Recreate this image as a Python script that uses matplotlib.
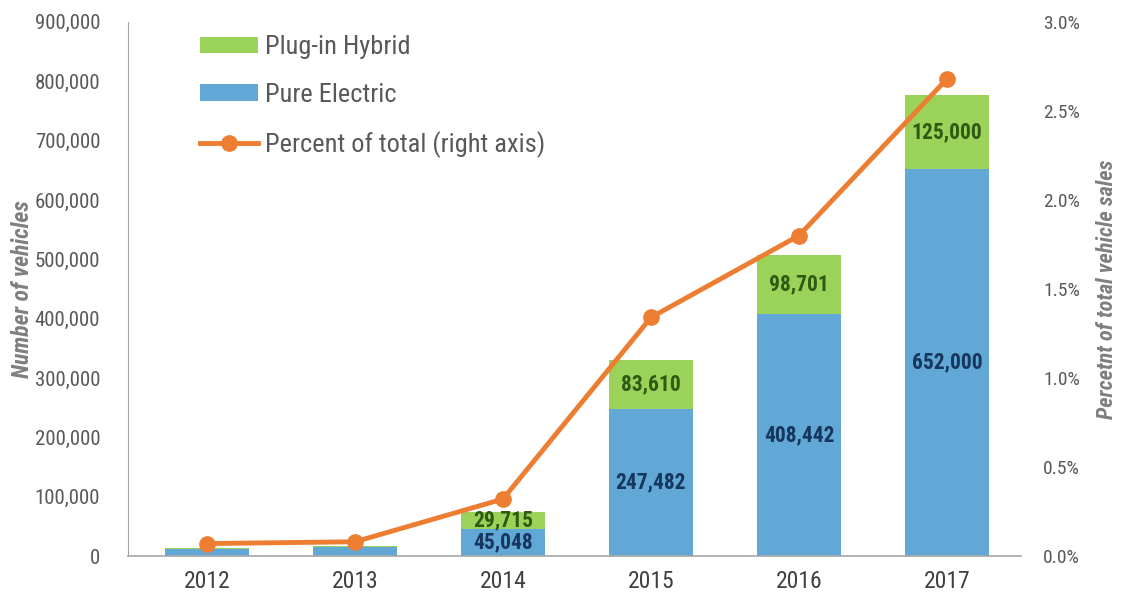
import matplotlib
matplotlib.use("Agg")
from matplotlib import pyplot as plt
from matplotlib import font_manager
from matplotlib.lines import Line2D
from matplotlib.patches import Patch
from matplotlib.ticker import FuncFormatter

# pick a narrow family if one is installed, else Roboto
installed = {f.name for f in font_manager.fontManager.ttflist}
family = "Roboto"
for cand in ["Roboto Condensed", "Liberation Sans Narrow", "Open Sans Condensed", "Arial Narrow"]:
    if cand in installed:
        family = cand
        break
plt.rcParams["font.family"] = [family, "DejaVu Sans"]

years = ["2012", "2013", "2014", "2015", "2016", "2017"]
pure_electric = [11375, 14604, 45048, 247482, 408442, 652000]
plug_in_hybrid = [1416, 3038, 29715, 83610, 98701, 125000]
percent_total = [0.07, 0.08, 0.32, 1.34, 1.80, 2.68]
show_labels = [False, False, True, True, True, True]

GREEN = "#9bd35a"
BLUE = "#61a8d7"
ORANGE = "#ed7d31"
GREY = "#595959"

fig = plt.figure(figsize=(11.22, 6.08), dpi=100)
ax = fig.add_axes([0.114, 0.0855, 0.796, 0.8785])
ax2 = ax.twinx()

x = list(range(len(years)))
ax.bar(x, pure_electric, width=0.57, color=BLUE, zorder=2)
ax.bar(x, plug_in_hybrid, width=0.57, bottom=pure_electric, color=GREEN, zorder=2)

# value labels in the middle of each segment
for i, show in enumerate(show_labels):
    if not show:
        continue
    ax.text(i, pure_electric[i] / 2, f"{pure_electric[i]:,}", ha="center", va="center",
            fontsize=15.5, fontweight="bold", color="#17365d", zorder=3)
    ax.text(i, pure_electric[i] + plug_in_hybrid[i] / 2, f"{plug_in_hybrid[i]:,}",
            ha="center", va="center", fontsize=15.5, fontweight="bold", color="#2e5a12", zorder=3)

ax2.plot(x, percent_total, color=ORANGE, lw=3.5, marker="o", ms=11, zorder=4)

ax.set_xlim(-0.534, 5.5)
ax.set_ylim(0, 900000)
ax.set_yticks(range(0, 900001, 100000))
ax.yaxis.set_major_formatter(FuncFormatter(lambda v, p: f"{int(v):,}"))
ax2.set_ylim(0, 3.0)
ax2.set_yticks([0, 0.5, 1.0, 1.5, 2.0, 2.5, 3.0])
ax2.yaxis.set_major_formatter(FuncFormatter(lambda v, p: f"{v:.1f}%"))

ax.set_xticks(x)
ax.set_xticklabels(years)

for a in (ax, ax2):
    for s in ("top", "right"):
        a.spines[s].set_visible(False)
ax2.spines["left"].set_visible(False)
ax2.spines["bottom"].set_visible(False)
ax.spines["left"].set_color("#a6a6a6")
ax.spines["bottom"].set_color("#a6a6a6")
ax.spines["bottom"].set_linewidth(1.2)

ax.tick_params(axis="y", length=0, labelsize=15, labelcolor=GREY, pad=20)
ax.tick_params(axis="x", length=0, labelsize=17, labelcolor="#404040", pad=10)
ax2.tick_params(axis="y", length=0, labelsize=14, labelcolor=GREY, pad=16)

ax.set_ylabel("Number of vehicles", fontsize=17, style="italic", fontweight="bold",
              color="#7f7f7f")
ax.yaxis.set_label_coords(-0.105, 0.5)
ax2.set_ylabel("Percetnt of total vehicle sales", fontsize=16, style="italic",
               fontweight="bold", color="#7f7f7f", rotation=90)
ax2.yaxis.set_label_coords(1.084, 0.5)

handles = [
    Patch(facecolor=GREEN, label="Plug-in Hybrid"),
    Patch(facecolor=BLUE, label="Pure Electric"),
    Line2D([0], [0], color=ORANGE, lw=3.5, marker="o", ms=11, label="Percent of total (right axis)"),
]
leg = ax.legend(handles=handles, loc="upper left", bbox_to_anchor=(0.081, 0.975), frameon=False,
                fontsize=19, labelspacing=0.9, handlelength=2.2, handleheight=0.6,
                handletextpad=0.25, borderpad=0, borderaxespad=0, labelcolor=GREY)

fig.savefig("out.png", dpi=100)
